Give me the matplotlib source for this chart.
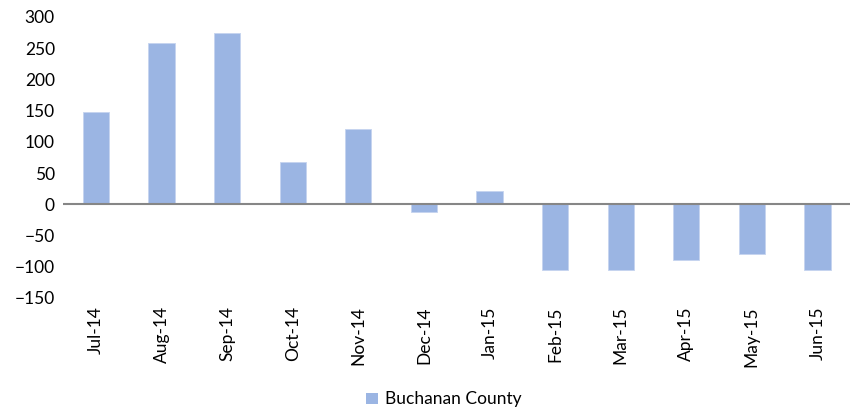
import matplotlib
matplotlib.use("Agg")
import matplotlib.pyplot as plt
from matplotlib.patches import Patch

months = ["Jul-14", "Aug-14", "Sep-14", "Oct-14", "Nov-14", "Dec-14",
          "Jan-15", "Feb-15", "Mar-15", "Apr-15", "May-15", "Jun-15"]
buchanan = [148, 258, 274, 67, 121, -12, 22, -105, -105, -90, -80, -105]

BAR_COLOR = "#9bb5e3"

plt.rcParams["font.family"] = ["Lato", "DejaVu Sans"]

fig = plt.figure(figsize=(8.54, 4.11), dpi=100)
ax = fig.add_axes([0.074, 0.275, 0.9216, 0.684])

x = range(len(months))
ax.bar(x, buchanan, width=0.4, color=BAR_COLOR, edgecolor="#c5d4ef", linewidth=0.6, zorder=2)
ax.axhline(0, color="#868686", linewidth=1.5, zorder=3)

ax.set_xlim(-0.5, len(months) - 0.5)
ax.set_ylim(-150, 300)
ax.set_yticks(range(-150, 301, 50))
ax.set_xticks(list(x))
ax.set_xticklabels(months, rotation=90)
ax.tick_params(axis="both", length=0, labelsize=12.5, colors="black")
ax.tick_params(axis="x", pad=6)
ax.tick_params(axis="y", pad=6)
for s in ax.spines.values():
    s.set_visible(False)

fig.legend(handles=[Patch(facecolor=BAR_COLOR, label="Buchanan County")],
           loc="center", bbox_to_anchor=(0.52, 0.028), frameon=False,
           fontsize=12.5, handlelength=0.65, handleheight=0.65, handletextpad=0.45)

fig.savefig("out.png", dpi=100)
